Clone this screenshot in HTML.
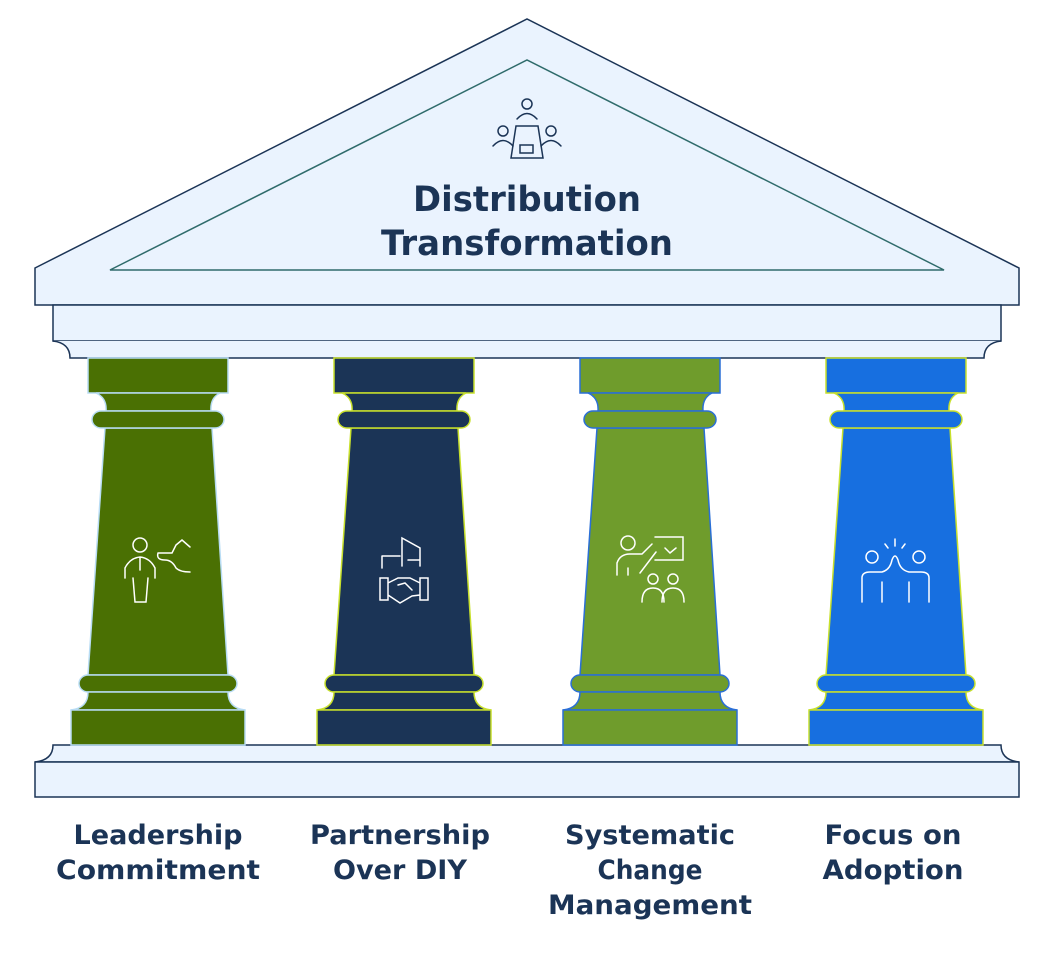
<!DOCTYPE html>
<html><head><meta charset="utf-8"><style>
html,body{margin:0;padding:0;background:#fff;width:1054px;height:956px;overflow:hidden}
svg{display:block}
text{font-family:"DejaVu Sans","Liberation Sans",sans-serif;font-weight:bold;fill:#1b3456}
</style></head><body>
<svg width="1054" height="956" viewBox="0 0 1054 956" xmlns="http://www.w3.org/2000/svg">
<defs>
<g id="pil">
  <path d="M105,428 L212,428 L228,675 L88,675 Z"/>
  <rect x="88" y="358" width="140" height="35"/>
  <path d="M96,393 L220,393 Q210,398 211,411 L106,411 Q107,398 96,393 Z"/>
  <rect x="92" y="411" width="132" height="17" rx="9"/>
  <rect x="79" y="675" width="158" height="17" rx="9"/>
  <path d="M88,692 L228,692 Q228,708 245,710 L71,710 Q88,708 88,692 Z"/>
  <rect x="71" y="710" width="174" height="35"/>
</g>
</defs>
<path d="M35,268 L527,19 L1019,268 L1019,305 L35,305 Z" fill="#eaf3fe" stroke="#1b3456" stroke-width="1.5"/>
<path d="M110,270 L527,60 L944,270 Z" fill="#eaf3fe" stroke="#2f6b6b" stroke-width="1.5"/>
<rect x="53" y="305" width="948" height="36" fill="#eaf3fe" stroke="#1b3456" stroke-width="1.5"/>
<path d="M53,341 Q70,343 70,358 L984,358 Q984,343 1001,341" fill="#eaf3fe" stroke="#1b3456" stroke-width="1.5"/>
<path d="M35,762 Q53,760 53,745 L1001,745 Q1001,760 1019,762 Z" fill="#eaf3fe" stroke="#1b3456" stroke-width="1.5"/>
<rect x="35" y="762" width="984" height="35" fill="#eaf3fe" stroke="#1b3456" stroke-width="1.5"/>
<use href="#pil" fill="#4a7003" stroke="#b8dcf4" stroke-width="1.5"/>
<use href="#pil" x="246" fill="#1b3456" stroke="#c8e02c" stroke-width="1.5"/>
<use href="#pil" x="492" fill="#6f9c2c" stroke="#2a6fd6" stroke-width="1.5"/>
<use href="#pil" x="738" fill="#176fe0" stroke="#c8e02c" stroke-width="1.5"/>
<g fill="none" stroke="#1b3456" stroke-width="1.5" stroke-linecap="round">
  <circle cx="527" cy="104" r="5"/><path d="M517,119 Q527,108 537,119"/>
  <circle cx="503" cy="131" r="5"/><path d="M493,146 Q503,135 513,146"/>
  <circle cx="551" cy="131" r="5"/><path d="M541,146 Q551,135 561,146"/>
  <path d="M516,126 L538,126 L543,158 L511,158 Z"/><rect x="520" y="145" width="13" height="8"/>
</g>
<g fill="none" stroke="#fff" stroke-width="1.5" stroke-linecap="round">
  <circle cx="140" cy="545" r="7"/>
  <path d="M125,578 L125,568 Q130,558 140,557 Q150,558 155,568 L155,578 M133,578 L135,602 L146,602 L148,578 M140,557 L140,570"/>
  <path d="M158,553 L172,553 L176,545 L182,540 L190,547 M158,553 Q156,560 165,560 Q172,560 176,568 Q180,572 190,572"/>
  <path d="M380,578 L388,578 L388,600 L380,600 Z M420,578 L428,578 L428,600 L420,600 Z M388,583 L398,578 L410,578 L420,583 M388,595 L400,603 L412,596 L420,595 M398,585 L405,583 L412,590 M402,566 L402,538 L420,548 L420,566 M382,556 L400,556 M382,556 L382,568 M408,560 L420,560"/>
  <circle cx="628" cy="543" r="7"/>
  <path d="M617,575 L617,563 Q620,554 630,554 L642,554 L652,544 M628,575 L628,568 M640,573 L656,552 M655,537 L683,537 L683,560 L655,560 M665,548 L670,553 L676,548"/>
  <circle cx="653" cy="579" r="5"/><circle cx="673" cy="579" r="5"/>
  <path d="M642,602 Q642,588 653,588 Q664,588 664,602 M662,602 Q662,588 673,588 Q684,588 684,602"/>
  <circle cx="872" cy="557" r="6"/><circle cx="919" cy="557" r="6"/>
  <path d="M862,602 L862,578 Q862,572 870,572 L882,572 Q890,570 892,560 M882,602 L882,582 M909,602 L909,582 M929,602 L929,578 Q929,572 921,572 L909,572 Q900,570 898,560 Q895,552 892,560 M895,546 L895,539 M885,544 L888,548 M905,544 L902,548"/>
</g>
<g text-anchor="middle" lengthAdjust="spacingAndGlyphs">
<text x="527" y="211" font-size="35" textLength="228" lengthAdjust="spacingAndGlyphs">Distribution</text>
<text x="527" y="255" font-size="35" textLength="292" lengthAdjust="spacingAndGlyphs">Transformation</text>
<text font-size="27" x="158" y="844" textLength="169" lengthAdjust="spacingAndGlyphs">Leadership</text>
<text font-size="27" x="158" y="879" textLength="204" lengthAdjust="spacingAndGlyphs">Commitment</text>
<text font-size="27" x="400" y="844" textLength="180" lengthAdjust="spacingAndGlyphs">Partnership</text>
<text font-size="27" x="400" y="879" textLength="134" lengthAdjust="spacingAndGlyphs">Over DIY</text>
<text font-size="27" x="650" y="844" textLength="170" lengthAdjust="spacingAndGlyphs">Systematic</text>
<text font-size="27" x="650" y="879" textLength="105" lengthAdjust="spacingAndGlyphs">Change</text>
<text font-size="27" x="650" y="914" textLength="204" lengthAdjust="spacingAndGlyphs">Management</text>
<text font-size="27" x="893" y="844" textLength="137" lengthAdjust="spacingAndGlyphs">Focus on</text>
<text font-size="27" x="893" y="879" textLength="141" lengthAdjust="spacingAndGlyphs">Adoption</text>
</g>
</svg>
</body></html>
